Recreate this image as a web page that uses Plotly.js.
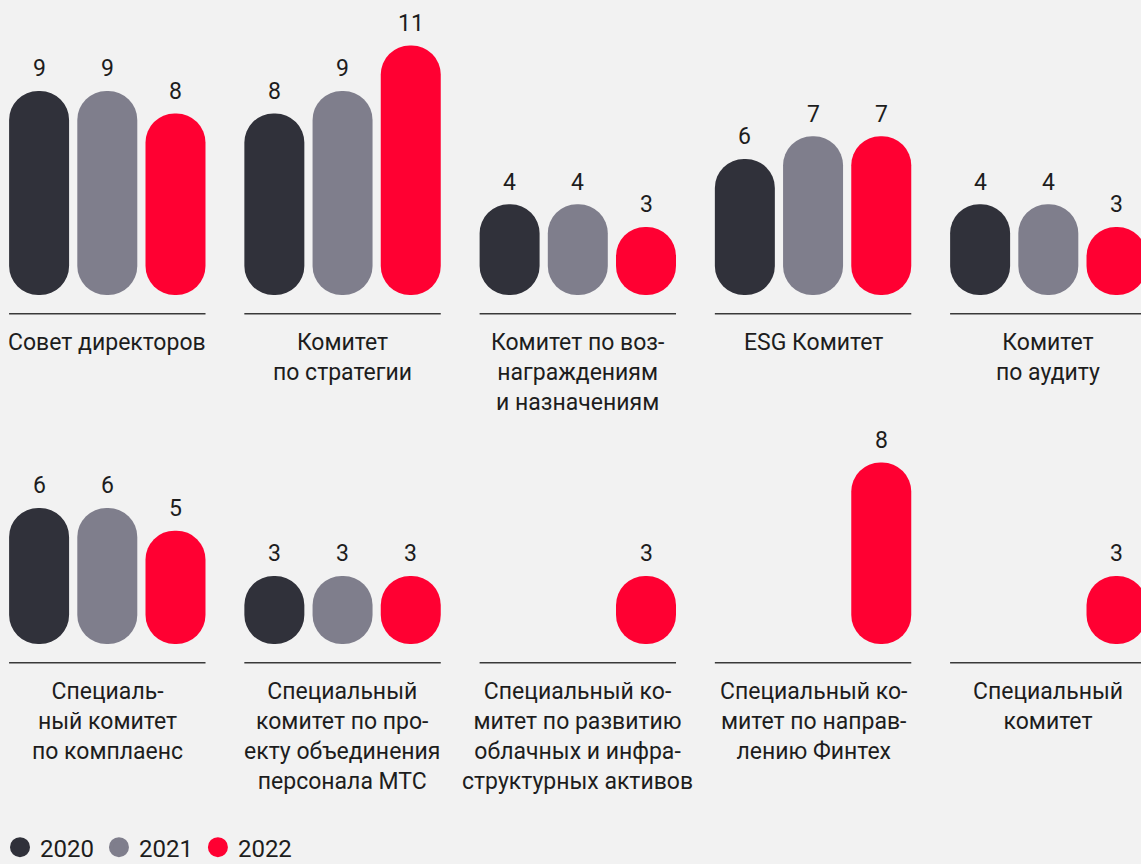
<!DOCTYPE html>
<html>
<head>
<meta charset="utf-8">
<script src="https://cdn.plot.ly/plotly-3.0.1.min.js"></script>
<style>
html,body{margin:0;padding:0;background:#f2f2f2;}
#chart{width:1141px;height:864px;}
</style>
</head>
<body>
<div id="chart"></div>
<script>
// ---- data ----
const years = ['2020', '2021', '2022'];
const colors = ['#30313a', '#7f7e8c', '#ff0032'];

const labelsTop = [
  'Совет директоров',
  'Комитет<br>по стратегии',
  'Комитет по воз-<br>награждениям<br>и назначениям',
  'ESG Комитет',
  'Комитет<br>по аудиту'
];
const labelsBottom = [
  'Специаль-<br>ный комитет<br>по комплаенс',
  'Специальный<br>комитет по про-<br>екту объединения<br>персонала МТС',
  'Специальный ко-<br>митет по развитию<br>облачных и инфра-<br>структурных активов',
  'Специальный ко-<br>митет по направ-<br>лению Финтех',
  'Специальный<br>комитет'
];

const top2020 = [9, 8, 4, 6, 4];
const top2021 = [9, 9, 4, 7, 4];
const top2022 = [8, 11, 3, 7, 3];

const bottom2020 = [6, 3, null, null, null];
const bottom2021 = [6, 3, null, null, null];
const bottom2022 = [5, 3, 3, 8, 3];

// ---- layout constants ----
const FONT = 'Roboto, "Noto Sans", sans-serif';
const TEXT_COLOR = '#1d1d1d';
const BAR_W = 0.2550;   // bar width in category units
const SLOT = 0.2899;    // distance between bar centres in a group
const LINE_HALF = 0.4175;
const LINE_Y = -0.8245;

const traces = [];
const annotations = [];
const shapes = [];

function buildRow(series, labels, xa, ya) {
  const xs = labels.map((_, i) => i);
  series.forEach((vals, k) => {
    const centre = (k - 1) * SLOT;
    traces.push({
      type: 'bar', x: xs, y: vals, base: 0, width: BAR_W, offset: centre - BAR_W / 2,
      marker: { color: colors[k], cornerradius: '50%' },
      xaxis: xa, yaxis: ya, showlegend: false, hoverinfo: 'skip'
    });
    vals.forEach((v, i) => {
      if (v == null) return;
      annotations.push({
        x: i + centre, y: v, xref: xa, yref: ya,
        text: String(v), showarrow: false, yanchor: 'middle', yshift: 22,
        font: { family: FONT, size: 23, color: TEXT_COLOR }
      });
    });
  });
  labels.forEach((lab, i) => {
    annotations.push({
      x: i, y: 0, xref: xa, yref: ya, text: lab, showarrow: false,
      yanchor: 'top', yshift: -32, align: 'center',
      font: { family: FONT, size: 23, color: TEXT_COLOR }
    });
    shapes.push({
      type: 'line', xref: xa, yref: ya,
      x0: i - LINE_HALF, x1: i + LINE_HALF, y0: LINE_Y, y1: LINE_Y,
      line: { color: '#3a3a3a', width: 1.5 }
    });
  });
}

buildRow([top2020, top2021, top2022], labelsTop, 'x', 'y');
buildRow([bottom2020, bottom2021, bottom2022], labelsBottom, 'x2', 'y2');

// legend entries
years.forEach((yr, k) => {
  traces.push({
    type: 'scatter', mode: 'markers', x: [null], y: [null], name: yr,
    marker: { color: colors[k], size: 16, symbol: 'circle', line: { color: colors[k], width: 4 } },
    xaxis: 'x', yaxis: 'y', showlegend: true, hoverinfo: 'skip'
  });
});

const xRange = [-0.4561, 4.394];
const axisCommon = { visible: false, fixedrange: true };

const layout = {
  width: 1141, height: 864,
  margin: { l: 0, r: 0, t: 0, b: 0, pad: 0, autoexpand: false },
  paper_bgcolor: '#f2f2f2', plot_bgcolor: '#f2f2f2',
  font: { family: FONT, size: 23, color: TEXT_COLOR },
  barmode: 'overlay',
  xaxis: Object.assign({}, axisCommon, { range: xRange, domain: [0, 1], anchor: 'y' }),
  yaxis: Object.assign({}, axisCommon, { range: [-1, 12], domain: [0.63229, 0.97350], anchor: 'x' }),
  xaxis2: Object.assign({}, axisCommon, { range: xRange, domain: [0, 1], anchor: 'y2' }),
  yaxis2: Object.assign({}, axisCommon, { range: [-1, 12], domain: [0.22836, 0.56956], anchor: 'x2' }),
  showlegend: true,
  legend: {
    orientation: 'h', x: 0, xanchor: 'left', y: -0.007, yanchor: 'bottom',
    font: { family: FONT, size: 24, color: TEXT_COLOR },
    bgcolor: 'rgba(0,0,0,0)', itemclick: false, itemdoubleclick: false
  },
  annotations: annotations,
  shapes: shapes
};

Plotly.newPlot('chart', traces, layout, { displayModeBar: false, staticPlot: true });
</script>
</body>
</html>
